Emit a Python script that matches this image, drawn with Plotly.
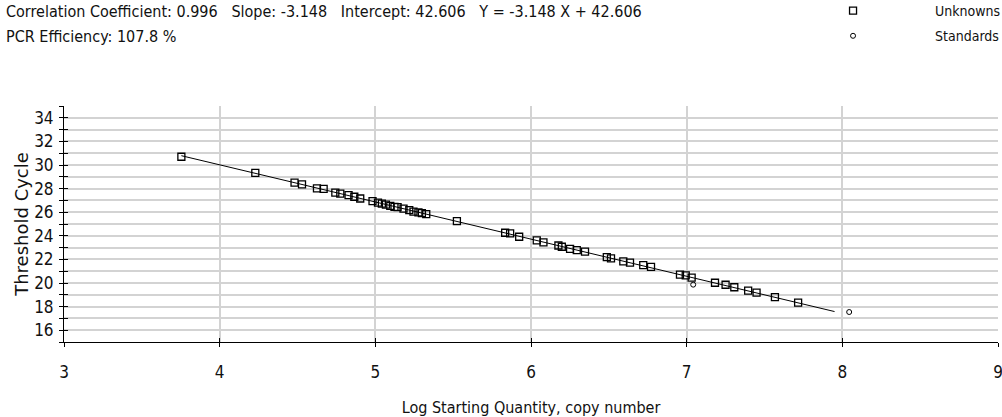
import plotly.graph_objects as go

# Standard-curve fit reported by the instrument
slope = -3.148
intercept = 42.606
corr_coef = 0.996
pcr_efficiency = 107.8

# Unknown samples: log starting quantity vs threshold cycle
unk_x = [3.754, 4.229, 4.481, 4.529, 4.625, 4.668, 4.743, 4.775, 4.828, 4.865,
         4.903, 4.982, 5.017, 5.042, 5.068, 5.096, 5.123, 5.143, 5.181, 5.218,
         5.245, 5.277, 5.299, 5.327, 5.524, 5.834, 5.866, 5.924, 6.037, 6.080,
         6.176, 6.198, 6.251, 6.294, 6.347, 6.487, 6.514, 6.593, 6.636, 6.721,
         6.771, 6.957, 6.994, 7.032, 7.182, 7.250, 7.306, 7.395, 7.449, 7.567,
         7.716]
unk_y = [30.70, 29.33, 28.51, 28.36, 28.02, 27.98, 27.66, 27.58, 27.45, 27.31,
         27.16, 26.94, 26.81, 26.73, 26.64, 26.54, 26.45, 26.43, 26.31, 26.17,
         26.05, 25.98, 25.93, 25.83, 25.24, 24.26, 24.20, 23.92, 23.61, 23.44,
         23.18, 23.07, 22.89, 22.78, 22.66, 22.20, 22.08, 21.84, 21.73, 21.52,
         21.36, 20.71, 20.65, 20.46, 20.02, 19.85, 19.64, 19.36, 19.18, 18.80,
         18.33]

# Standards
std_x = [7.042, 8.044]
std_y = [19.86, 17.54]

# Extent of the drawn regression line
fit_x = [3.754, 7.95]
fit_y = [slope * x + intercept for x in fit_x]

# Axis ticks
x_tick_vals = [3, 4, 5, 6, 7, 8, 9]
x_tick_text = ["3", "4", "5", "6", "7", "8", "9"]
y_tick_vals = list(range(15, 36))
y_tick_text = [str(v) if (v % 2 == 0 and 16 <= v <= 34) else "" for v in y_tick_vals]

TXT_FONT = "Liberation Sans Narrow, DejaVu Sans Condensed, Arial Narrow, sans-serif"
W, H = 1002, 417
ML, MR, MT, MB = 64, 4, 106, 75
PW, PH = W - ML - MR, H - MT - MB


def px_x(px):
    return (px - ML) / PW


def px_y(py):
    return (H - MB - py) / PH


fig = go.Figure()

fig.add_trace(go.Scatter(
    x=fit_x, y=fit_y, mode="lines",
    line=dict(color="#000000", width=1),
    showlegend=False, hoverinfo="skip",
))
fig.add_trace(go.Scatter(
    x=unk_x, y=unk_y, mode="markers", name="Unknowns", legendgroup="unk",
    marker=dict(symbol="square-open", size=7, color="#000000",
                line=dict(width=1.3, color="#000000")),
))
fig.add_trace(go.Scatter(
    x=std_x, y=std_y, mode="markers", name="Standards", legendgroup="std",
    marker=dict(symbol="circle-open", size=5, color="#000000",
                line=dict(width=1, color="#000000")),
))

sp = "\u00a0"
line1 = (f"Correlation Coefficient: {corr_coef:.3f}{sp*3}Slope: {slope:.3f}{sp*3}"
         f"Intercept: {intercept:.3f}{sp*3}Y = {slope:.3f} X + {intercept:.3f}")
line2 = f"PCR Efficiency: {pcr_efficiency:.1f} %"

fig.add_annotation(text=line1, xref="paper", yref="paper",
                   x=px_x(4), y=px_y(12), xanchor="left", yanchor="middle",
                   showarrow=False, font=dict(family=TXT_FONT, size=16, color="#111111"))
fig.add_annotation(text=line2, xref="paper", yref="paper",
                   x=px_x(4), y=px_y(37), xanchor="left", yanchor="middle",
                   showarrow=False, font=dict(family=TXT_FONT, size=16, color="#111111"))

axis_common = dict(showline=True, linecolor="#000000", linewidth=1,
                   zeroline=False, ticks="outside", ticklen=4, tickwidth=1,
                   tickcolor="#000000")

fig.update_layout(
    width=W, height=H,
    margin=dict(l=ML, r=MR, t=MT, b=MB, autoexpand=False),
    paper_bgcolor="#ffffff", plot_bgcolor="#ffffff",
    font=dict(family=TXT_FONT, size=17, color="#111111"),
    xaxis=dict(range=[3, 9], tickvals=x_tick_vals, ticktext=x_tick_text,
               showgrid=True, gridcolor="#d3d3d3", gridwidth=2,
               ticklabelstandoff=11, ticklabeloverflow="allow", automargin=False,
               title=dict(text="Log Starting Quantity, copy number",
                          font=dict(family=TXT_FONT, size=16), standoff=20),
               **axis_common),
    yaxis=dict(range=[15, 35], tickvals=y_tick_vals, ticktext=y_tick_text,
               showgrid=True, gridcolor="#d3d3d3", gridwidth=2,
               ticklabelstandoff=2, automargin=False,
               title=dict(text="Threshold Cycle",
                          font=dict(family="DejaVu Sans, Verdana, sans-serif", size=18),
                          standoff=0),
               **axis_common),
    # companion axes that add the inward half of each crossing tick
    xaxis2=dict(range=[3, 9], tickvals=x_tick_vals, overlaying="x", anchor="y",
                side="bottom", ticks="inside", ticklen=4, tickcolor="#000000",
                showticklabels=False, showgrid=False, showline=False, zeroline=False),
    yaxis2=dict(range=[15, 35], tickvals=y_tick_vals, overlaying="y", anchor="x",
                side="left", ticks="inside", ticklen=4, tickcolor="#000000",
                showticklabels=False, showgrid=False, showline=False, zeroline=False),
    legend=dict(xref="container", yref="paper", x=0.7695, y=px_y(-5),
                xanchor="left", yanchor="top", bgcolor="rgba(0,0,0,0)",
                itemwidth=154, font=dict(family=TXT_FONT, size=14),
                tracegroupgap=4),
    showlegend=True,
)

# invisible trace binding the companion axes
fig.add_trace(go.Scatter(x=[3], y=[15], xaxis="x2", yaxis="y2", mode="markers",
                         marker=dict(opacity=0), showlegend=False, hoverinfo="skip"))

fig.write_html("out.html")
